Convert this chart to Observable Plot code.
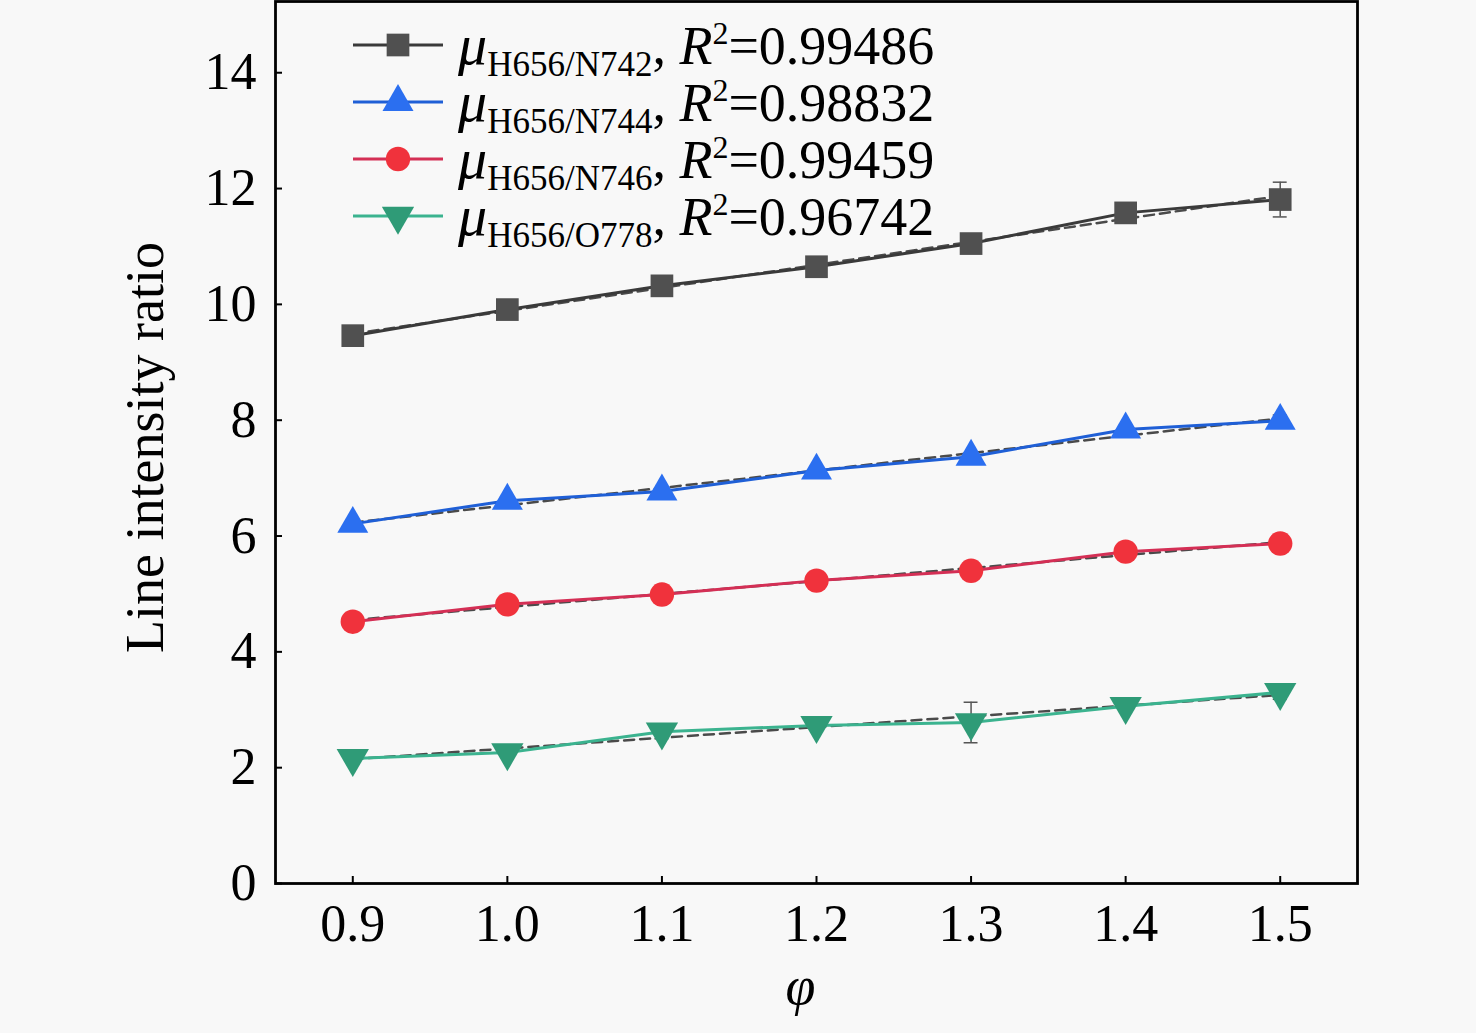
<!DOCTYPE html>
<html><head><meta charset="utf-8">
<script src="https://cdn.jsdelivr.net/npm/d3@7"></script>
<script src="https://cdn.jsdelivr.net/npm/@observablehq/plot@0.6"></script>
<style>
body{margin:0;background:#f8f8f8;}
#wrap{position:relative;width:1476px;height:1033px;}
#legend{position:absolute;left:0;top:0;pointer-events:none;}
</style>
</head><body><div id="wrap"></div>
<script>
// ---- data ----
const phi = [0.9, 1.0, 1.1, 1.2, 1.3, 1.4, 1.5];
const seriesKeys = ["H656/N742", "H656/N744", "H656/N746", "H656/O778"];
const r2Values = ["0.99486", "0.98832", "0.99459", "0.96742"];
const yN742 = [9.46, 9.91, 10.32, 10.65, 11.05, 11.58, 11.81];
const yN744 = [6.21, 6.61, 6.77, 7.13, 7.37, 7.84, 7.99];
const yN746 = [4.52, 4.82, 4.99, 5.23, 5.40, 5.73, 5.87];
const yO778 = [2.16, 2.26, 2.62, 2.73, 2.78, 3.06, 3.30];
const errN742 = [0.05, 0.06, 0.06, 0.05, 0.06, 0.08, 0.30];
const errN744 = [0.05, 0.06, 0.05, 0.05, 0.06, 0.06, 0.10];
const errN746 = [0.04, 0.05, 0.04, 0.05, 0.05, 0.05, 0.06];
const errO778 = [0.05, 0.05, 0.12, 0.06, 0.35, 0.06, 0.12];
const xTicks = [0.9, 1.0, 1.1, 1.2, 1.3, 1.4, 1.5];
const yTicks = [0, 2, 4, 6, 8, 10, 12, 14];

const styles = [
  {line: "#3a3a3a", fill: "#505050", symbol: "square", r: 12.8, rotate: 0},
  {line: "#1f5fd6", fill: "#2b6ff0", symbol: "triangle", r: 11.5, rotate: 0},
  {line: "#d42f55", fill: "#f0323c", symbol: "circle", r: 12.2, rotate: 0},
  {line: "#3bb38f", fill: "#2f9b77", symbol: "triangle", r: 12, rotate: 180}
];
const ys = [yN742, yN744, yN746, yO778];
const errs = [errN742, errN744, errN746, errO778];

const tables = ys.map((arr, i) => arr.map((v, j) => ({x: phi[j], y: v, e: errs[i][j], s: seriesKeys[i]})));

const font = "Liberation Serif, Times New Roman, serif";
const marks = [];
tables.forEach((t, i) => {
  const st = styles[i];
  marks.push(Plot.linearRegressionY(t, {x: "x", y: "y", ci: 0, stroke: "#4a4a4a", strokeWidth: 2.5, strokeDasharray: "10,6"}));
  marks.push(Plot.ruleX(t, {x: "x", y1: d => d.y - d.e, y2: d => d.y + d.e, stroke: "#555", strokeWidth: 1.5}));
  marks.push(Plot.ruleY(t, {y: d => d.y + d.e, x1: d => d.x - 0.0045, x2: d => d.x + 0.0045, stroke: "#555", strokeWidth: 1.5}));
  marks.push(Plot.ruleY(t, {y: d => d.y - d.e, x1: d => d.x - 0.0045, x2: d => d.x + 0.0045, stroke: "#555", strokeWidth: 1.5}));
  marks.push(Plot.line(t, {x: "x", y: "y", stroke: st.line, strokeWidth: 3}));
  marks.push(Plot.dot(t, {x: "x", y: "y", symbol: st.symbol, r: st.r, fill: st.fill, rotate: st.rotate}));
});

const chart = Plot.plot({
  width: 1476, height: 1033,
  marginLeft: 275, marginRight: 119, marginTop: 1, marginBottom: 150,
  style: {background: "#f8f8f8", fontFamily: font, color: "#000", overflow: "visible"},
  x: {domain: [0.85, 1.55]},
  y: {domain: [0, 15.23]},
  marks: [
    ...marks,
    Plot.frame({stroke: "#000", strokeWidth: 2.8}),
    Plot.axisX(xTicks, {tickSize: -7, tickPadding: 28, tickFormat: d => d.toFixed(1), fontSize: 52, strokeWidth: 2, label: null}),
    Plot.axisY(yTicks, {tickSize: -7, tickPadding: 26, tickFormat: d => String(d), fontSize: 52, strokeWidth: 2, label: null}),
    Plot.text(["Line intensity ratio"], {frameAnchor: "left", textAnchor: "middle", dx: -130, dy: 5, rotate: -90, fontSize: 54, fill: "#000", text: d => d}),
    Plot.text(["φ"], {frameAnchor: "bottom", dx: -16, dy: 120, fontSize: 54, fontStyle: "italic", fill: "#000", text: d => d})
  ]
});
document.getElementById("wrap").appendChild(chart);

// ---- legend overlay ----
const leg = d3.select("#wrap").append("svg").attr("id", "legend").attr("width", 1476).attr("height", 1033);
const rowY = [45, 102, 159, 216];
const symMap = {square: d3.symbolSquare, triangle: d3.symbolTriangle, circle: d3.symbolCircle};
seriesKeys.forEach((k, i) => {
  const st = styles[i];
  const y = rowY[i];
  const g = leg.append("g");
  g.append("line").attr("x1", 353).attr("x2", 443).attr("y1", y).attr("y2", y).attr("stroke", st.line).attr("stroke-width", 3);
  g.append("path").attr("d", d3.symbol(symMap[st.symbol], Math.PI * st.r * st.r)())
    .attr("transform", `translate(398,${y}) rotate(${st.rotate})`).attr("fill", st.fill);
  const t = g.append("text").attr("x", 458).attr("y", y + 19).attr("font-family", font).attr("font-size", 54).attr("fill", "#000");
  t.append("tspan").attr("font-style", "italic").attr("font-size", 58).text("μ");
  t.append("tspan").attr("font-size", 35).attr("dy", 12).text(k);
  t.append("tspan").attr("dy", -12).text(", ");
  t.append("tspan").attr("font-style", "italic").text("R");
  t.append("tspan").attr("font-size", 32).attr("dy", -20).text("2");
  t.append("tspan").attr("dy", 20).text("=" + r2Values[i]);
});
</script>
</body></html>
